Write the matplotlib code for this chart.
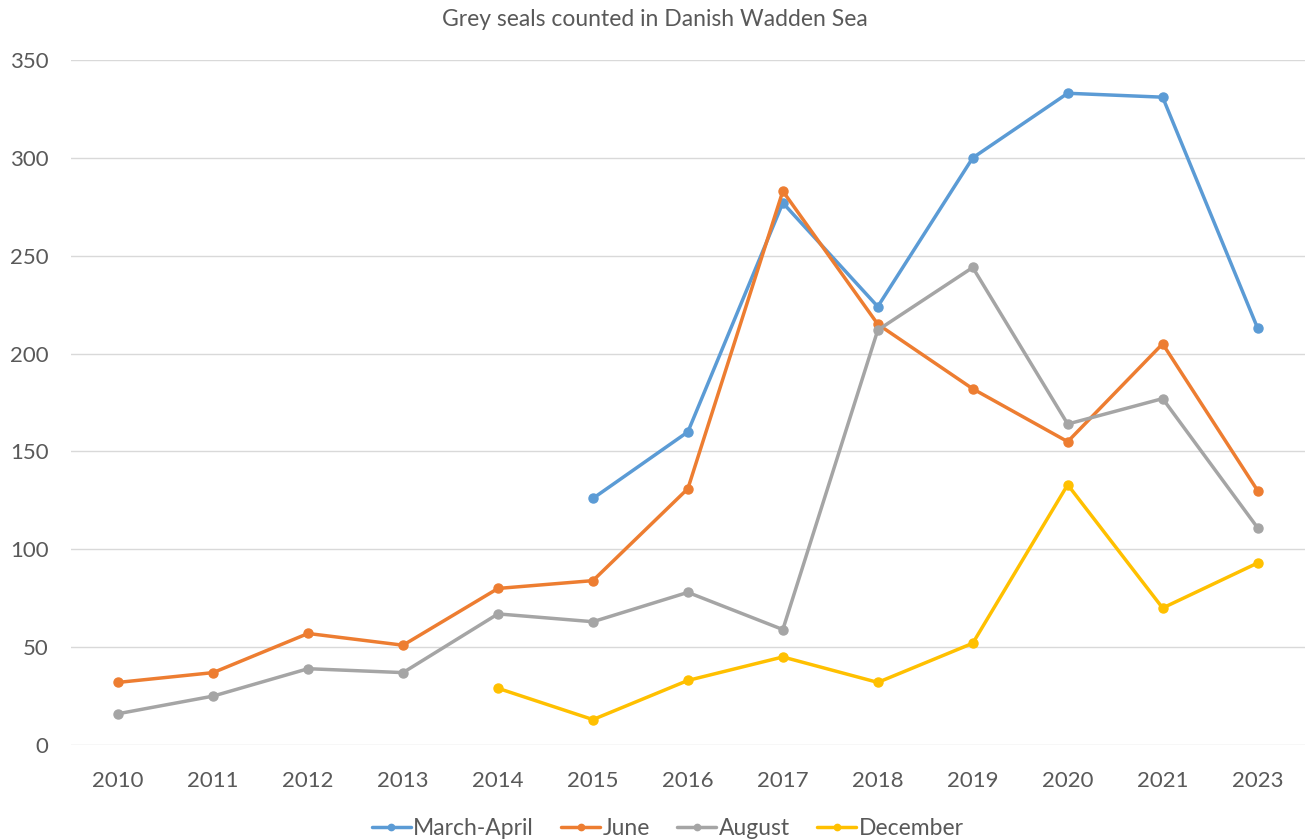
import matplotlib
matplotlib.use("Agg")
import matplotlib.pyplot as plt
import numpy as np

years = ["2010", "2011", "2012", "2013", "2014", "2015", "2016", "2017", "2018", "2019", "2020", "2021", "2023"]
march_april = [None, None, None, None, None, 126, 160, 277, 224, 300, 333, 331, 213]
june = [32, 37, 57, 51, 80, 84, 131, 283, 215, 182, 155, 205, 130]
august = [16, 25, 39, 37, 67, 63, 78, 59, 212, 244, 164, 177, 111]
december = [None, None, None, None, 29, 13, 33, 45, 32, 52, 133, 70, 93]

series = [
    ("March-April", march_april, "#5B9BD5"),
    ("June", june, "#ED7D31"),
    ("August", august, "#A5A5A5"),
    ("December", december, "#FFC000"),
]

plt.rcParams['font.family'] = ['Lato', 'DejaVu Sans']
text_color = "#595959"

fig = plt.figure(figsize=(13.09, 8.39), dpi=100)
ax = fig.add_axes([0.054, 0.112, 0.943, 0.8165])

x = np.arange(len(years))
for name, vals, color in series:
    v = np.array([np.nan if a is None else a for a in vals], dtype=float)
    ax.plot(x, v, color=color, lw=2.5, marker='o', markersize=6.5, label=name,
            solid_capstyle='round', solid_joinstyle='round')

ax.set_xlim(-0.5, len(years) - 0.5)
ax.set_ylim(0, 350)
ax.set_yticks(np.arange(0, 351, 50))
ax.set_xticks(x)
ax.set_xticklabels(years)
ax.yaxis.grid(True, color="#D9D9D9", lw=1)
ax.set_axisbelow(True)
for s in ax.spines.values():
    s.set_visible(False)
ax.tick_params(axis='both', length=0, labelsize=16, colors=text_color)
ax.tick_params(axis='x', pad=19)
ax.tick_params(axis='y', pad=16)

fig.text(0.5, 0.977, "Grey seals counted in Danish Wadden Sea", ha='center', va='center',
         fontsize=16.5, color=text_color)

leg = fig.legend(loc='center', bbox_to_anchor=(0.51, 0.013), ncol=4, frameon=False,
                 fontsize=16.5, handlelength=1.7, handletextpad=0.1, columnspacing=1.2,
                 markerscale=0.7)
for t in leg.get_texts():
    t.set_color(text_color)

fig.savefig("out.png", dpi=100)
